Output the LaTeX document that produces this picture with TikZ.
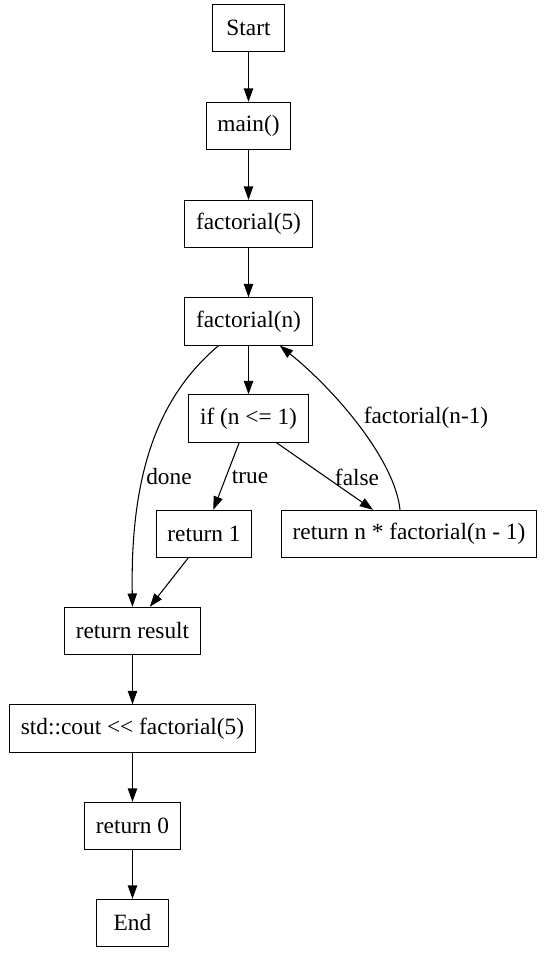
\documentclass[tikz,border=0pt]{standalone}
\usepackage{fontspec}
\setmainfont{Liberation Serif}
\usepackage{tikz}
\usetikzlibrary{arrows.meta}

\begin{document}
\begin{tikzpicture}[x=0.75pt,y=-0.75pt,
    >={Triangle[length=10pt,width=7pt]},
    line width=0.8pt,
    block/.style  = {draw, rectangle, minimum width = 54.5pt, minimum height = 35.5pt, inner xsep=8.4pt, font=\fontsize{17.5pt}{20pt}\selectfont},
    elabel/.style = {font=\fontsize{17.5pt}{20pt}\selectfont, inner sep=0pt}]

  \useasboundingbox (0,0) rectangle (543,953);

  \draw (248.5,28) node[block] (start) {Start};
  \draw (248.5,126) node[block] (main) {main()};
  \draw (248.5,224) node[block] (fact5) {factorial(5)};
  \draw (248.5,321.5) node[block] (factn) {factorial(n)};
  \draw (248.5,418.5) node[block] (iftest) {if (n <= 1)};
  \draw (204,534) node[block] (ret1) {return 1};
  \draw (409,534) node[block] (retn) {return n * factorial(n - 1)};
  \draw (132.5,631) node[block] (retres) {return result};
  \draw (132.5,728.5) node[block] (cout) {std::cout <{}< factorial(5)};
  \draw (132.5,826) node[block] (ret0) {return 0};
  \draw (132.5,923) node[block] (stop) {End};

  \draw [->] (start) -- (main);
  \draw [->] (main) -- (fact5);
  \draw [->] (fact5) -- (factn);
  \draw [->] (factn) -- (iftest);
  \draw [->] ([xshift=-22.5pt]factn.south) .. controls (160,395) and (130,470) .. (retres.north);
  \draw [->] ([xshift=-7pt]iftest.south) -- ([xshift=7pt]ret1.north);
  \draw [->] ([xshift=21pt]iftest.south) -- ([xshift=-27pt]retn.north);
  \draw [->] ([xshift=-6.75pt]retn.north) .. controls (395,460) and (335,390) .. ([xshift=23.5pt]factn.south);
  \draw [->] ([xshift=-12pt]ret1.south) -- ([xshift=13pt]retres.north);
  \draw [->] (retres) -- (cout);
  \draw [->] (cout) -- (ret0);
  \draw [->] (ret0) -- (stop);

  \draw (169,477) node[elabel] (ldone) {done};
  \draw (250,477) node[elabel] (ltrue) {true};
  \draw (357,477) node[elabel] (lfalse) {false};
  \draw (426,418) node[elabel] (lrec) {factorial(n-1)};

\end{tikzpicture}
\end{document}
